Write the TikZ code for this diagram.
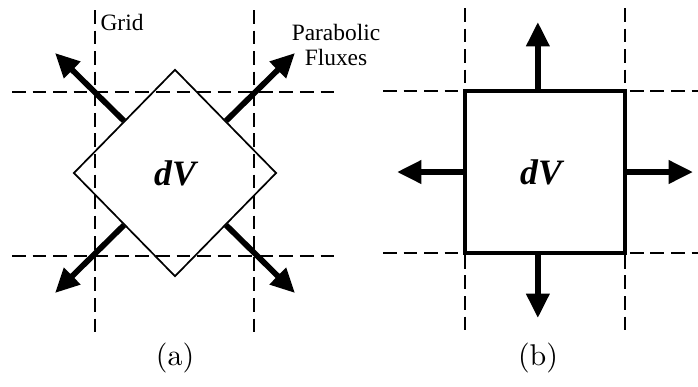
\documentclass[tikz,border=0pt]{standalone}
\usepackage{fontspec}
\newfontfamily\timesfont{Liberation Serif}
\usetikzlibrary{arrows.meta, shapes.geometric}

\begin{document}
\begin{tikzpicture}[
    x=0.35pt, y=-0.35pt,
    gridline/.style={line width=1pt, dash pattern=on 4.8pt off 2.4pt},
    flux/.style={-{Triangle[length=8.5pt, width=7.8pt]}, line width=2pt},
    celldiamond/.style={diamond, draw, line width=0.6pt, inner sep=0pt, minimum width=71pt, minimum height=72.5pt},
    cellsquare/.style={rectangle, draw, line width=1.1pt, inner sep=0pt, minimum width=56pt, minimum height=56.7pt},
    volname/.style={font=\timesfont\bfseries\itshape\fontsize{12.5}{14}\selectfont},
    textlabel/.style={font=\timesfont\fontsize{8.2}{8.6}\selectfont, align=center, inner sep=0pt},
    caption/.style={font=\fontsize{10.5}{12}\selectfont}
]
\useasboundingbox (0,0) rectangle (698,386);

% ===== Left: (a) =====
\draw[gridline] (95,10) -- (95,335);
\draw[gridline] (254,10) -- (254,335);
\draw[gridline] (12,92) -- (336,92);
\draw[gridline] (12,256) -- (336,256);

\node[celldiamond] (dv_a) at (175,173) {};
\node[volname] at (dv_a) {dV};

\coordinate (tip_nw) at (55,53);
\coordinate (tip_ne) at (295,53);
\coordinate (tip_sw) at (55,293);
\coordinate (tip_se) at (295,293);
\draw[flux] (dv_a.north west) -- (tip_nw);
\draw[flux] (dv_a.north east) -- (tip_ne);
\draw[flux] (dv_a.south west) -- (tip_sw);
\draw[flux] (dv_a.south east) -- (tip_se);

\node[textlabel, anchor=west] (grid_lbl) at (100,22) {Grid};
\node[textlabel] (flux_lbl) at (336,45) {Parabolic\\Fluxes};

\node[caption] (cap_a) at (175,358) {(a)};

% ===== Right: (b) =====
\draw[gridline] (465,8) -- (465,332);
\draw[gridline] (625,8) -- (625,332);
\draw[gridline] (383,91) -- (698,91);
\draw[gridline] (383,253) -- (698,253);

\node[cellsquare, fill=white] (dv_b) at (545,172) {};
\node[volname] at (541,172) {dV};

\coordinate (tip_n) at ([xshift=-2.5pt]dv_b.north |- 0,22);
\coordinate (tip_s) at ([xshift=-2.5pt]dv_b.south |- 0,318);
\coordinate (tip_w) at (397,172);
\coordinate (tip_e) at (693,172);
\draw[flux] ([xshift=-2.5pt]dv_b.north) -- (tip_n);
\draw[flux] ([xshift=-2.5pt]dv_b.south) -- (tip_s);
\draw[flux] (dv_b.west) -- (tip_w);
\draw[flux] (dv_b.east) -- (tip_e);

\node[caption] (cap_b) at (538,358) {(b)};

\end{tikzpicture}
\end{document}
